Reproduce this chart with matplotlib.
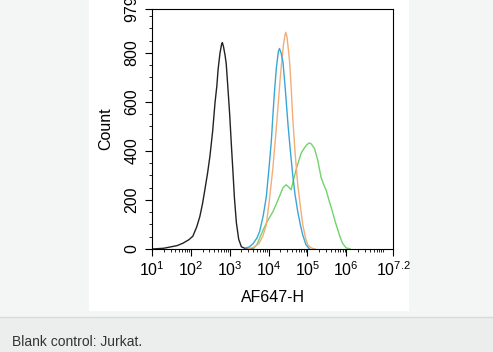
import matplotlib
matplotlib.use("Agg")
import matplotlib.pyplot as plt
from matplotlib.patches import Rectangle
from matplotlib.ticker import FixedLocator, NullFormatter
import numpy as np

plt.rcParams['font.family'] = ['Liberation Sans', 'DejaVu Sans']
plt.rcParams['mathtext.fontset'] = 'custom'
plt.rcParams['mathtext.rm'] = 'Liberation Sans'
plt.rcParams['mathtext.it'] = 'Liberation Sans'

# histogram outlines, x as log10(AF647-H), y as count
black_x = [1.0, 1.3, 1.46, 1.65, 1.8, 1.95, 2.05, 2.15, 2.23, 2.30, 2.36, 2.43, 2.49, 2.56, 2.62, 2.67,
           2.70, 2.75, 2.79, 2.81, 2.84, 2.88, 2.91, 2.96, 3.0, 3.04, 3.08, 3.12, 3.17, 3.23, 3.3, 3.4, 3.6]
black_y = [0, 3, 8, 14, 24, 38, 52, 90, 132, 185, 242, 310, 378, 480, 595, 668,
           732, 800, 835, 842, 825, 790, 755, 640, 545, 430, 322, 210, 108, 40, 9, 2, 0]

orange_x = [3.45, 3.6, 3.75, 3.85, 3.94, 4.02, 4.11, 4.18, 4.24, 4.29, 4.33, 4.38, 4.42, 4.44, 4.47,
            4.51, 4.54, 4.58, 4.62, 4.68, 4.75, 4.82, 4.88, 4.95, 5.01, 5.1, 5.2]
orange_y = [0, 6, 22, 52, 98, 200, 330, 460, 575, 680, 752, 830, 872, 884, 868,
            812, 762, 660, 535, 395, 262, 170, 98, 45, 16, 4, 0]

blue_x = [3.4, 3.5, 3.6, 3.7, 3.77, 3.86, 3.94, 4.01, 4.07, 4.11, 4.15, 4.2, 4.25, 4.28, 4.32,
          4.37, 4.43, 4.5, 4.56, 4.62, 4.68, 4.75, 4.82, 4.88, 4.96, 5.05]
blue_y = [4, 8, 22, 45, 72, 135, 212, 330, 440, 545, 640, 740, 805, 818, 800,
          762, 650, 505, 400, 302, 222, 152, 96, 56, 18, 0]

green_x = [3.6, 3.7, 3.77, 3.86, 3.95, 4.03, 4.11, 4.2, 4.28, 4.37, 4.45, 4.5, 4.58, 4.64, 4.71,
           4.78, 4.84, 4.92, 4.98, 5.05, 5.1, 5.18, 5.26, 5.35, 5.42, 5.48, 5.56, 5.65, 5.72, 5.78,
           5.84, 5.9, 5.99, 6.1]
green_y = [0, 18, 45, 78, 108, 130, 152, 185, 215, 250, 262, 255, 242, 282, 325,
           362, 392, 412, 425, 433, 428, 410, 365, 292, 262, 240, 195, 148, 108, 78,
           48, 24, 5, 0]

xtick_pos = [1, 2, 3, 4, 5, 6, 7.2]
xtick_lab = [r'$10^{1}$', r'$10^{2}$', r'$10^{3}$', r'$10^{4}$', r'$10^{5}$', r'$10^{6}$', r'$10^{7.2}$']
ytick_pos = [0, 200, 400, 600, 800, 979]

fig = plt.figure(figsize=(4.93, 3.52), dpi=100)
fig.patch.set_facecolor('#f4f5f5')

# white image panel and caption strip
fig.add_artist(Rectangle((0, 0), 1, 35 / 352, transform=fig.transFigure,
                         facecolor='#eceeed', edgecolor='none', zorder=0))
fig.add_artist(plt.Line2D([0, 1], [35 / 352, 35 / 352], transform=fig.transFigure,
                          color='#d8dada', lw=1, zorder=1))
fig.add_artist(Rectangle((89 / 493, 41 / 352), 320 / 493, 311 / 352, transform=fig.transFigure,
                         facecolor='white', edgecolor='none', zorder=0))
fig.text(12 / 493, 10 / 352, 'Blank control: Jurkat.', fontsize=10, color='#333333',
         ha='left', va='center')

ax = fig.add_axes([152 / 493, 103 / 352, 241 / 493, 240 / 352])
ax.set_facecolor('white')

lw = 1.0
ax.plot(10 ** np.array(black_x), black_y, color='#222222', lw=lw)
ax.plot(10 ** np.array(green_x), green_y, color='#6fd46a', lw=lw)
ax.plot(10 ** np.array(orange_x), orange_y, color='#f2ad78', lw=lw)
ax.plot(10 ** np.array(blue_x), blue_y, color='#3aa6d6', lw=lw)

ax.set_xscale('log')
ax.set_xlim(10 ** 1, 10 ** 7.2)
ax.set_ylim(0, 979)

ax.xaxis.set_major_locator(FixedLocator([10 ** p for p in xtick_pos]))
ax.set_xticklabels(xtick_lab, fontsize=11.5)
minors = [k * 10 ** n for n in range(1, 8) for k in range(2, 10) if k * 10 ** n < 10 ** 7.2]
ax.xaxis.set_minor_locator(FixedLocator(minors))
ax.xaxis.set_minor_formatter(NullFormatter())

ax.yaxis.set_major_locator(FixedLocator(ytick_pos))
ax.set_yticklabels([str(v) for v in ytick_pos], rotation=90, va='center', fontsize=11.5)
ax.yaxis.set_minor_locator(FixedLocator([v for v in range(50, 979, 50) if v % 200 != 0]))

ax.tick_params(which='major', length=5, width=0.8, color='black')
ax.tick_params(axis='x', which='major', pad=3)
ax.tick_params(axis='y', which='major', pad=4)
ax.tick_params(which='minor', length=2.5, width=0.6, color='black')
for s in ax.spines.values():
    s.set_linewidth(0.8)

ax.set_xlabel('AF647-H', fontsize=11.5, labelpad=8)
ax.set_ylabel('Count', fontsize=11.5, labelpad=8)

fig.savefig('out.png', dpi=100, facecolor=fig.get_facecolor())
